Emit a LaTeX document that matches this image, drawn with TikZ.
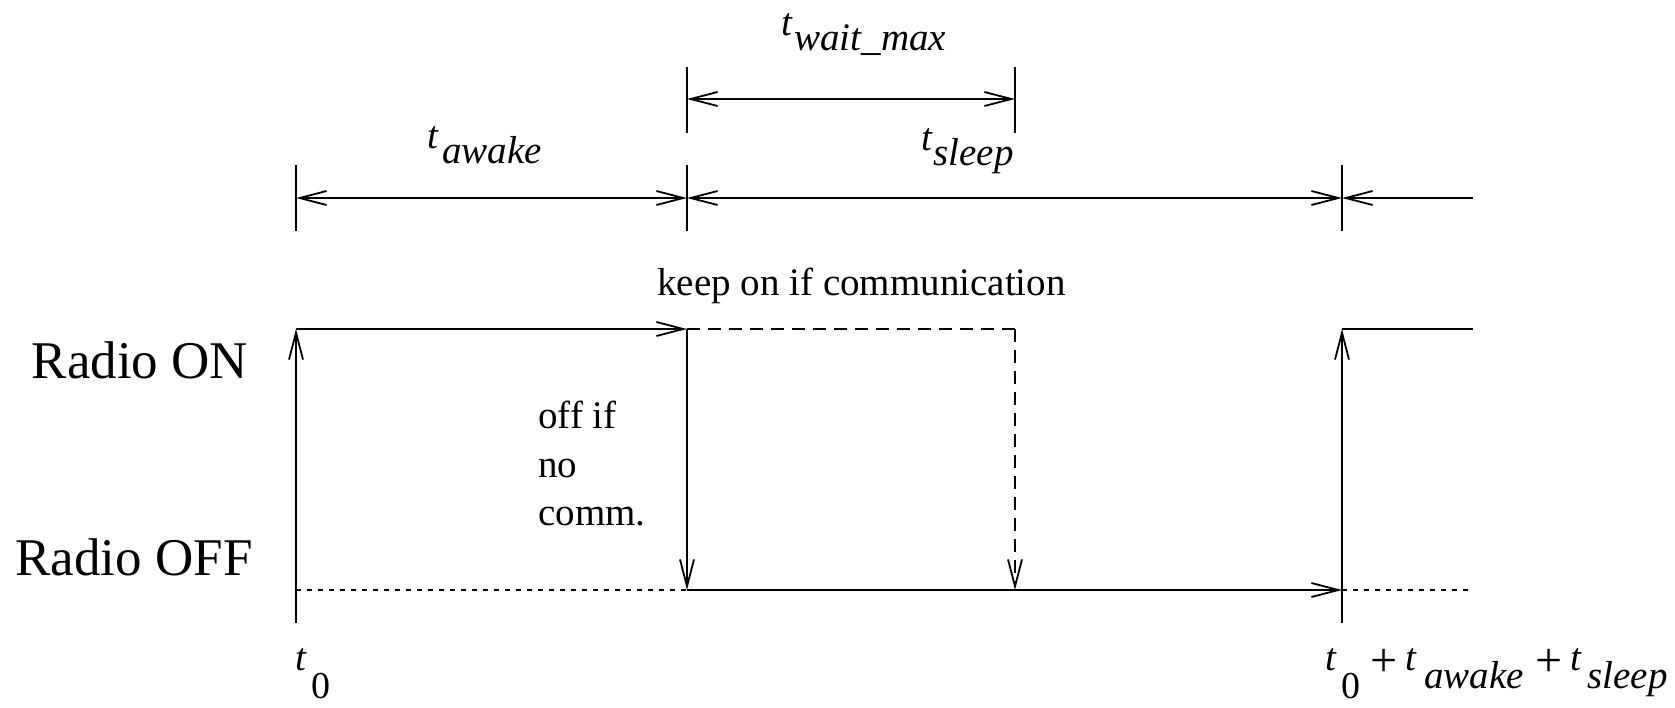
\documentclass[tikz,border=0pt]{standalone}
\usepackage{fontspec}
\setmainfont{Liberation Serif}[ItalicFont={Liberation Serif Italic}]
\usetikzlibrary{arrows.meta}
\tikzset{
  ln/.style={line width=0.9pt},
  tipend/.style={ln,-{Straight Barb[length=13.5pt,width=7pt]}},
  tipboth/.style={ln,{Straight Barb[length=13.5pt,width=7pt]}-{Straight Barb[length=13.5pt,width=7pt]}},
  dashline/.style={ln,dash pattern=on 6.5pt off 4pt},
  dotline/.style={line width=0.7pt,dash pattern=on 2.5pt off 3pt},
  radio/.style={font=\fontsize{26.5}{30}\selectfont,inner sep=0pt,anchor=base},
  note/.style={font=\fontsize{19.5}{24}\selectfont,inner sep=0pt,anchor=base west},
  tl/.style={font=\fontsize{19.5}{24}\selectfont\itshape,inner sep=0pt,anchor=base west},
  tz/.style={font=\fontsize{19}{23}\selectfont,inner sep=0pt,anchor=base west},
  plus/.style={font=\fontsize{24}{28}\selectfont,inner sep=0pt,anchor=base west}
}
\begin{document}
\begin{tikzpicture}[x=0.5pt,y=-0.5pt]
\useasboundingbox (0,0) rectangle (1675,707);
% coordinates
\coordinate (wL) at (687,99);
\coordinate (wR) at (1015,99);
\coordinate (wLt) at (687,67);
\coordinate (wLb) at (687,133);
\coordinate (wRt) at (1015,67);
\coordinate (wRb) at (1015,133);
\coordinate (aL) at (296,198);
\coordinate (aM) at (687,198);
\coordinate (sR) at (1342,198);
\coordinate (eR) at (1473,198);
\coordinate (aLt) at (296,165);
\coordinate (aLb) at (296,231);
\coordinate (aMt) at (687,165);
\coordinate (aMb) at (687,231);
\coordinate (sRt) at (1342,165);
\coordinate (sRb) at (1342,231);
\coordinate (b0) at (296,623);
\coordinate (on0) at (296,329);
\coordinate (on1) at (687,329);
\coordinate (off1) at (687,590);
\coordinate (on2) at (1015,329);
\coordinate (off2) at (1015,590);
\coordinate (off0) at (296,590);
\coordinate (off3) at (1342,590);
\coordinate (b3) at (1342,623);
\coordinate (on3) at (1342,329);
\coordinate (on4) at (1473,329);
\coordinate (off4) at (1473,590);
% dimension lines
\draw[tipboth] (wL) -- (wR);
\draw[ln] (wLt) -- (wLb);
\draw[ln] (wRt) -- (wRb);
\draw[tipboth] (aL) -- (aM);
\draw[tipboth] (aM) -- (sR);
\draw[tipend] (eR) -- (sR);
\draw[ln] (aLt) -- (aLb);
\draw[ln] (aMt) -- (aMb);
\draw[ln] (sRt) -- (sRb);
% signal
\draw[tipend] (b0) -- (on0);
\draw[tipend] (on0) -- (on1);
\draw[tipend] (on1) -- (off1);
\draw[dashline] (on1) -- (on2);
\draw[dashline,-{Straight Barb[length=13.5pt,width=7pt]}] (on2) -- (off2);
\draw[tipend] (off1) -- (off3);
\draw[dotline] (off0) -- (off1);
\draw[dotline] (off3) -- (off4);
\draw[tipend] (b3) -- (on3);
\draw[ln] (on3) -- (on4);
% texts
\node[radio] (ron) at (140,378) {Radio ON};
\node[radio] (roff) at (134,575) {Radio OFF};
\node[note] (keep) at (657,295) {keep on if communication};
\node[note] (n1) at (538,428) {off if};
\node[note] (n2) at (538,477) {no};
\node[note] (n3) at (538,525) {comm.};
% time labels
\node[tl] (tw) at (781,35) {t};
\node[tl] (tws) at (794,50) {wait\_max};
\node[tl] (ta) at (427,148) {t};
\node[tl] (tas) at (442,163) {awake};
\node[tl] (ts) at (921,150) {t};
\node[tl] (tss) at (933,165) {sleep};
\node[tl] (t0) at (295,670) {t};
\node[tz] (t0s) at (311,698) {0};
\node[tl] (t1) at (1325,670) {t};
\node[tz] (t1s) at (1341,698) {0};
\node[plus] (p1) at (1370,676) {+};
\node[tl] (t2) at (1405,670) {t};
\node[tl] (t2s) at (1424,688) {awake};
\node[plus] (p2) at (1535,676) {+};
\node[tl] (t3) at (1570,670) {t};
\node[tl] (t3s) at (1587,688) {sleep};
\end{tikzpicture}
\end{document}
